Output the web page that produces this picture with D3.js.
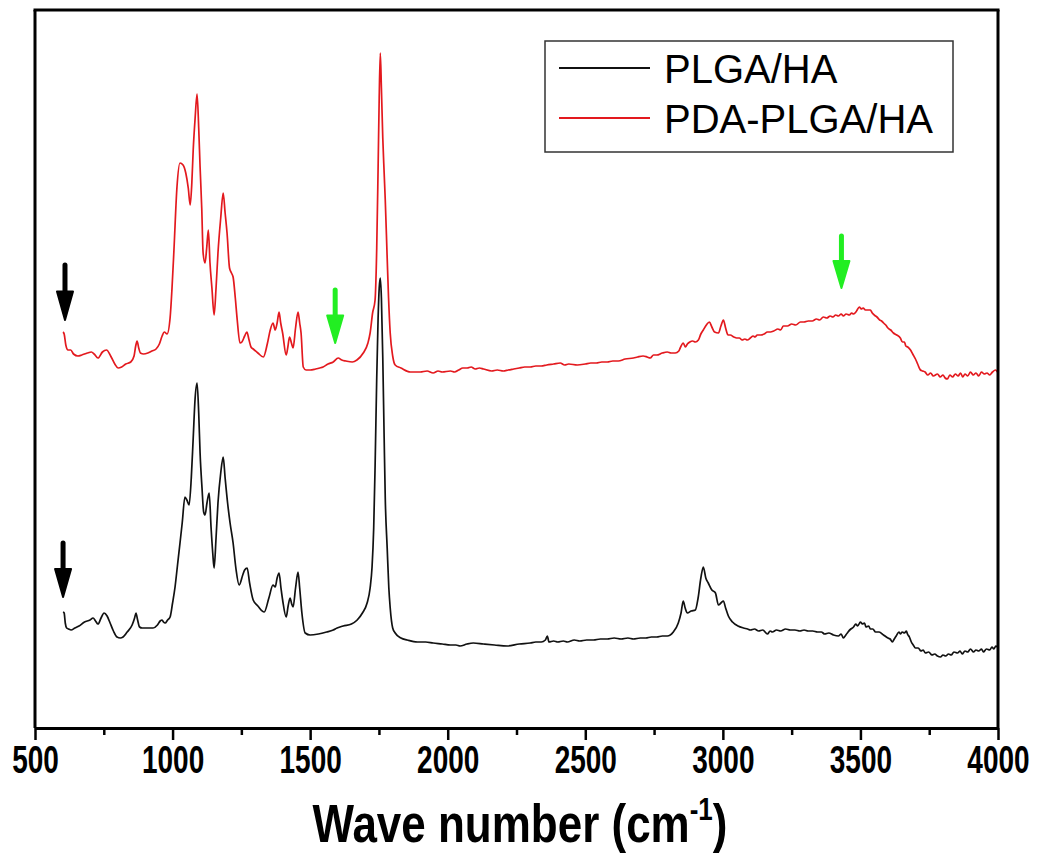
<!DOCTYPE html>
<html><head><meta charset="utf-8">
<script src="https://cdn.jsdelivr.net/npm/d3@7"></script>
<style>body{margin:0;background:#fff}svg{display:block}text{font-family:"Liberation Sans",Arial,sans-serif}</style>
</head><body>
<svg id="c" width="1040" height="854"></svg>
<script>
// x ticks (wavenumber, cm-1)
const majorTicks = [500,1000,1500,2000,2500,3000,3500,4000];
const minorTicks = [750,1250,1750,2250,2750,3250,3750];
const seriesNames = ["PLGA/HA","PDA-PLGA/HA"];
const seriesColors = ["#111111","#e3191e"];

// PLGA/HA (black) [wavenumber, intensity a.u.]
const plgaHA = [[602,116],[606,115],[610,105],[615,100],[622,99],[631,98],[645,100],[660,102],[680,106],[700,108],[711,110],[720,107],[729,104],[740,110],[751,115],[762,112],[773,105],[785,97],[798,91],[810,90],[820,91],[835,96],[853,103],[862,110],[867,115],[873,108],[880,101],[889,100],[905,100],[920,100],[929,100],[945,103],[955,107],[962,108],[967,106],[973,105],[982,108],[991,111],[1000,125],[1009,141],[1018,163],[1027,185],[1035,205],[1045,231],[1052,228],[1060,223],[1068,250],[1075,290],[1082,330],[1089,345],[1095,315],[1100,275],[1107,240],[1113,216],[1118,213],[1125,225],[1133,235],[1140,200],[1146,175],[1151,160],[1158,190],[1165,225],[1175,255],[1184,271],[1191,250],[1200,225],[1209,205],[1220,185],[1230,160],[1242,143],[1255,153],[1262,158],[1271,160],[1280,145],[1293,128],[1310,122],[1333,116],[1350,130],[1365,143],[1373,141],[1380,150],[1387,155],[1394,140],[1400,128],[1413,111],[1420,122],[1427,130],[1433,124],[1438,121],[1447,140],[1456,156],[1462,140],[1470,115],[1482,95],[1500,93],[1530,94],[1560,96],[1584,98],[1598,100],[1620,102],[1650,104],[1671,108],[1690,115],[1707,125],[1718,140],[1725,161],[1731,200],[1736,261],[1742,350],[1747,410],[1751,440],[1755,450],[1759,430],[1764,370],[1769,290],[1773,230],[1780,180],[1786,140],[1791,120],[1800,100],[1809,95],[1830,90],[1853,88],[1890,86],[1920,86],[1947,85],[1980,84],[2010,83],[2030,83],[2045,82],[2070,84],[2093,85],[2130,84],[2170,83],[2216,82],[2260,84],[2300,85],[2320,86],[2340,86],[2355,88],[2362,92],[2368,86],[2385,87],[2400,86],[2420,87],[2435,86],[2460,88],[2480,87],[2505,88],[2530,88],[2555,89],[2580,89],[2605,90],[2630,89],[2655,90],[2675,89],[2700,90],[2720,90],[2740,91],[2760,91],[2780,92],[2798,92],[2820,96],[2838,105],[2848,115],[2856,127],[2863,120],[2871,115],[2885,117],[2900,118],[2910,130],[2920,150],[2929,161],[2938,150],[2947,145],[2960,138],[2973,135],[2984,123],[2993,125],[3002,127],[3010,120],[3020,112],[3035,106],[3055,102],[3075,100],[3090,99],[3100,98],[3115,99],[3130,97],[3145,98],[3162,94],[3172,97],[3180,96],[3195,98],[3210,97],[3228,99],[3245,98],[3262,98],[3280,97],[3295,98],[3310,97],[3327,97],[3344,96],[3358,96],[3370,94],[3385,95],[3402,93],[3420,92],[3430,94],[3438,90],[3447,93],[3455,96],[3465,99],[3475,101],[3483,104],[3490,102],[3500,106],[3507,104],[3515,105],[3520,101],[3530,102],[3536,99],[3545,99],[3555,96],[3568,96],[3584,93],[3600,90],[3608,89],[3616,86],[3623,89],[3630,92],[3640,96],[3645,94],[3652,96],[3660,95],[3667,97],[3671,94],[3678,91],[3685,86],[3692,83],[3700,80],[3710,80],[3720,77],[3728,78],[3736,75],[3748,76],[3760,73],[3770,74],[3780,72],[3791,71],[3800,73],[3810,72],[3820,74],[3830,73],[3840,76],[3853,75],[3862,77],[3870,74],[3880,77],[3890,76],[3900,79],[3911,76],[3920,78],[3930,77],[3940,79],[3947,76],[3958,79],[3970,78],[3978,81],[3985,79],[3992,82],[3998,81]];

// PDA-PLGA/HA (red) [wavenumber, intensity a.u.]
const pdaPlgaHA = [[602,396],[606,394],[612,383],[620,378],[630,378],[640,374],[656,372],[670,373],[690,375],[705,376],[715,374],[729,370],[745,376],[760,378],[775,372],[790,364],[802,360],[815,361],[830,364],[848,366],[860,372],[866,382],[871,387],[877,380],[883,375],[895,374],[910,375],[925,377],[940,379],[952,384],[962,392],[970,396],[980,394],[991,410],[998,440],[1005,478],[1016,541],[1027,565],[1038,563],[1048,555],[1057,540],[1064,523],[1070,545],[1075,578],[1082,610],[1089,634],[1095,600],[1100,561],[1106,520],[1111,475],[1118,465],[1124,480],[1130,498],[1136,465],[1143,440],[1151,413],[1158,440],[1165,475],[1175,510],[1184,535],[1191,515],[1198,495],[1207,460],[1214,455],[1220,451],[1228,430],[1235,408],[1245,385],[1252,386],[1262,392],[1270,396],[1278,388],[1285,381],[1293,379],[1310,375],[1330,371],[1345,385],[1355,398],[1365,405],[1373,398],[1380,405],[1387,416],[1393,405],[1400,395],[1413,373],[1419,381],[1425,391],[1432,385],[1438,380],[1447,400],[1456,416],[1462,405],[1467,395],[1475,361],[1485,358],[1500,358],[1520,359],[1535,360],[1547,361],[1565,364],[1584,366],[1602,370],[1615,368],[1630,367],[1653,366],[1670,368],[1693,375],[1710,385],[1718,395],[1727,415],[1736,428],[1742,480],[1747,560],[1751,630],[1755,675],[1759,640],[1764,590],[1769,555],[1773,528],[1780,470],[1785,430],[1791,395],[1800,372],[1809,363],[1830,360],[1864,356],[1900,356],[1925,357],[1947,355],[1965,357],[1980,356],[2010,357],[2025,356],[2040,358],[2055,360],[2071,360],[2085,361],[2100,359],[2115,360],[2130,359],[2160,357],[2180,358],[2202,357],[2220,358],[2240,359],[2260,360],[2280,361],[2300,361],[2320,362],[2340,362],[2360,363],[2385,364],[2409,365],[2425,363],[2440,364],[2471,363],[2500,364],[2520,365],[2540,365],[2560,366],[2580,366],[2600,367],[2620,367],[2645,369],[2675,370],[2690,371],[2710,372],[2725,371],[2736,370],[2748,373],[2760,373],[2780,375],[2798,376],[2812,375],[2827,375],[2840,377],[2845,380],[2856,385],[2864,381],[2871,384],[2880,386],[2890,387],[2900,386],[2911,388],[2920,394],[2929,398],[2940,403],[2951,406],[2960,401],[2970,396],[2984,395],[2993,402],[3002,408],[3010,400],[3019,393],[3027,393],[3040,391],[3050,390],[3060,390],[3070,388],[3080,389],[3089,388],[3100,390],[3110,392],[3117,391],[3125,393],[3138,393],[3150,394],[3162,396],[3173,396],[3185,397],[3200,399],[3210,398],[3220,402],[3235,402],[3250,404],[3265,403],[3282,406],[3295,406],[3310,407],[3325,407],[3340,409],[3352,408],[3365,411],[3378,410],[3390,412],[3400,411],[3410,413],[3420,412],[3430,414],[3438,412],[3448,414],[3460,413],[3468,415],[3475,414],[3486,417],[3496,421],[3503,419],[3510,420],[3518,418],[3525,418],[3536,418],[3543,415],[3550,413],[3560,411],[3570,408],[3577,407],[3584,405],[3592,403],[3600,400],[3610,398],[3620,395],[3632,393],[3645,390],[3653,386],[3660,386],[3665,382],[3672,381],[3682,378],[3690,374],[3700,369],[3708,364],[3718,358],[3726,357],[3735,356],[3745,353],[3755,355],[3765,352],[3780,354],[3790,351],[3800,353],[3808,350],[3816,349],[3825,353],[3835,351],[3845,354],[3855,352],[3864,355],[3872,351],[3880,354],[3890,352],[3900,356],[3910,353],[3920,355],[3930,352],[3940,356],[3950,354],[3960,355],[3970,353],[3980,356],[3991,358],[3998,356]];

// annotation arrows: [wavenumber, top a.u., tip a.u., color]
const arrowMarks = [[609,463,408,"#000000"],[602,185,131,"#000000"],[1591,438,385,"#22ee22"],[3431,492,440,"#22ee22"]];

const svg = d3.select("#c");
const W=1040,H=854, m={l:35,r:42,t:10,b:126};
const x = d3.scaleLinear().domain([500,4000]).range([m.l, W-m.r]);
const y = d3.scaleLinear().domain([0,718]).range([H-m.b, m.t]);

// lines
const line = d3.line().x(d=>x(d[0])).y(d=>y(d[1])).curve(d3.curveMonotoneX);
[plgaHA,pdaPlgaHA].forEach((s,i)=>{
  svg.append("path").datum(s).attr("d",line).attr("fill","none")
    .attr("stroke",seriesColors[i]).attr("stroke-width",1.7).attr("stroke-linejoin","round");
});

// arrows
arrowMarks.forEach(a=>{
  const cx=x(a[0]), y0=y(a[1]), y1=y(a[2]);
  const headL=(y1-y0)*0.52, hw=8;
  const g=svg.append("g");
  g.append("line").attr("x1",cx).attr("x2",cx).attr("y1",y0).attr("y2",y1-headL+2)
    .attr("stroke",a[3]).attr("stroke-width",5).attr("stroke-linecap","round");
  g.append("path").attr("d",`M${cx-hw},${y1-headL} L${cx+hw},${y1-headL} L${cx},${y1} Z`)
    .attr("fill",a[3]).attr("stroke",a[3]).attr("stroke-width",2).attr("stroke-linejoin","round");
});

// frame
const fr = svg.append("g").attr("fill","none").attr("stroke","#000").attr("stroke-width",3);
fr.append("line").attr("x1",x(500)-1.5).attr("x2",x(4000)+1.5).attr("y1",y(718)).attr("y2",y(718));
fr.append("line").attr("x1",x(500)).attr("x2",x(500)).attr("y1",y(718)).attr("y2",y(0));
fr.append("line").attr("x1",x(4000)).attr("x2",x(4000)).attr("y1",y(718)).attr("y2",y(0));

// bottom axis
const sy=1.4;
const ax = svg.append("g").attr("transform",`translate(0,${y(0)})`)
  .call(d3.axisBottom(x).tickValues(majorTicks).tickSize(12).tickSizeOuter(0).tickFormat(d3.format("d")));
ax.select(".domain").attr("stroke-width",3).attr("stroke","#000");
ax.selectAll(".tick line").attr("stroke-width",2.5).attr("stroke","#000");
ax.selectAll(".tick text").attr("font-family","'Liberation Sans',Arial,sans-serif")
  .attr("font-size",28).attr("font-weight","bold").attr("fill","#000")
  .attr("dy",0).attr("y",45/sy).attr("transform",`scale(1,${sy})`);
const axm = svg.append("g").attr("transform",`translate(0,${y(0)})`)
  .call(d3.axisBottom(x).tickValues(minorTicks).tickSize(7).tickFormat(""));
axm.select(".domain").remove();
axm.selectAll(".tick line").attr("stroke-width",2.5).attr("stroke","#000");

// x title
const ty=1.2;
const tt = svg.append("text").attr("transform",`translate(520,842) scale(1,${ty})`)
  .attr("text-anchor","middle").attr("font-size",44).attr("font-weight","bold").attr("fill","#000");
tt.append("tspan").text("Wave number (cm");
tt.append("tspan").attr("font-size",26).attr("dy",-18).text("-1");
tt.append("tspan").attr("dy",18).text(")");

// legend
const lg = svg.append("g");
lg.append("rect").attr("x",545).attr("y",41).attr("width",408).attr("height",111)
  .attr("fill","#fff").attr("stroke","#333").attr("stroke-width",1.5);
seriesNames.forEach((n,i)=>{
  const yy = 68 + i*50;
  lg.append("line").attr("x1",559).attr("x2",650).attr("y1",yy).attr("y2",yy)
    .attr("stroke",seriesColors[i]).attr("stroke-width",2);
  lg.append("text").attr("x",664).attr("y",yy+15).attr("font-size",40).attr("fill","#000").text(n);
});
</script>
</body></html>
